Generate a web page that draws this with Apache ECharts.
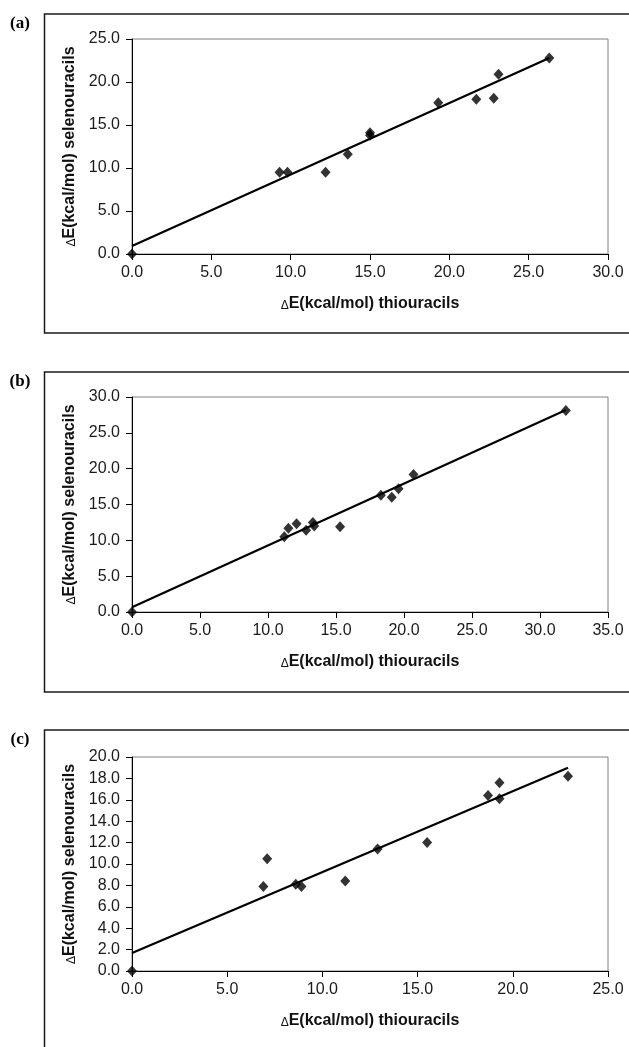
<!DOCTYPE html>
<html>
<head>
<meta charset="utf-8">
<script src="https://cdn.jsdelivr.net/npm/echarts/dist/echarts.min.js"></script>
<style>
html,body{margin:0;padding:0;background:#fff;}
#chart{width:629px;height:1047px;}
</style>
</head>
<body>
<div id="chart"></div>
<script>
// ---- Data ----
var panelLabels = ['(a)', '(b)', '(c)'];
var xTitle = 'E(kcal/mol) thiouracils';
var yTitle = 'E(kcal/mol) selenouracils';

// (a)
var aThio    = [0, 9.3, 9.8, 12.2, 13.6, 15.0, 15.0, 19.3, 21.7, 22.8, 23.1, 26.3];
var aSeleno  = [0, 9.5, 9.5, 9.5, 11.6, 14.1, 13.8, 17.6, 18.0, 18.1, 20.9, 22.8];
var aTrendX  = [0, 26.3];
var aTrendY  = [0.93, 22.8];
var aXTicks  = [0, 30, 5];
var aYTicks  = [0, 25, 5];

// (b)
var bThio    = [0, 11.2, 11.5, 12.1, 12.8, 13.3, 13.4, 15.3, 18.3, 19.1, 19.6, 20.7, 31.9];
var bSeleno  = [0, 10.5, 11.7, 12.3, 11.4, 12.5, 12.0, 11.9, 16.3, 16.0, 17.2, 19.2, 28.1];
var bTrendX  = [0, 31.9];
var bTrendY  = [0.65, 28.2];
var bXTicks  = [0, 35, 5];
var bYTicks  = [0, 30, 5];

// (c)
var cThio    = [0, 6.9, 7.1, 8.6, 8.9, 11.2, 12.9, 15.5, 18.7, 19.3, 19.3, 22.9];
var cSeleno  = [0, 7.9, 10.5, 8.1, 7.9, 8.4, 11.4, 12.0, 16.4, 17.6, 16.1, 18.2];
var cTrendX  = [0, 22.9];
var cTrendY  = [1.68, 19.0];
var cXTicks  = [0, 25, 5];
var cYTicks  = [0, 20, 2];

// ---- Layout ----
var panels = [
  {x: aThio, y: aSeleno, tx: aTrendX, ty: aTrendY, xt: aXTicks, yt: aYTicks, top: 39, h: 215, frameTop: 14, frameH: 319},
  {x: bThio, y: bSeleno, tx: bTrendX, ty: bTrendY, xt: bXTicks, yt: bYTicks, top: 397, h: 215, frameTop: 372, frameH: 320},
  {x: cThio, y: cSeleno, tx: cTrendX, ty: cTrendY, xt: cXTicks, yt: cYTicks, top: 757, h: 214, frameTop: 730, frameH: 340}
];

function zip(xs, ys) { return xs.map(function (v, i) { return [v, ys[i]]; }); }

var FONT = '"Liberation Sans", Arial, sans-serif';
var grids = [], xAxes = [], yAxes = [], series = [], graphics = [];

panels.forEach(function (p, i) {
  grids.push({left: 132, top: p.top, width: 476, height: p.h, show: true,
              borderColor: '#808080', borderWidth: 1, backgroundColor: 'transparent'});
  var tickFmt = function (v) { return v.toFixed(1); };
  xAxes.push({
    type: 'value', gridIndex: i, min: p.xt[0], max: p.xt[1], interval: p.xt[2],
    splitLine: {show: false},
    axisLine: {show: true, onZero: false, lineStyle: {color: '#000', width: 1}},
    axisTick: {show: true, inside: false, length: 6, lineStyle: {color: '#000'}},
    axisLabel: {show: true, margin: 11, color: '#1a1a1a', fontFamily: FONT, fontSize: 16, formatter: tickFmt},
    name: '{d|Δ}{b|' + xTitle + '}', nameLocation: 'middle', nameGap: 42,
    nameTextStyle: {rich: {
      d: {fontFamily: FONT, fontSize: 12, color: '#111', padding: [3, 0, 0, 0]},
      b: {fontFamily: FONT, fontSize: 16, fontWeight: 'bold', color: '#111'}
    }}
  });
  yAxes.push({
    type: 'value', gridIndex: i, min: p.yt[0], max: p.yt[1], interval: p.yt[2],
    splitLine: {show: false},
    axisLine: {show: true, onZero: false, lineStyle: {color: '#000', width: 1}},
    axisTick: {show: true, inside: false, length: 6, lineStyle: {color: '#000'}},
    axisLabel: {show: true, margin: 12, color: '#1a1a1a', fontFamily: FONT, fontSize: 16, formatter: tickFmt},
    name: '{d|Δ}{b|' + yTitle + '}', nameLocation: 'middle', nameGap: 50, nameRotate: 90,
    nameTextStyle: {rich: {
      d: {fontFamily: FONT, fontSize: 12, color: '#111', padding: [3, 0, 0, 0]},
      b: {fontFamily: FONT, fontSize: 16, fontWeight: 'bold', color: '#111'}
    }}
  });
  series.push({
    type: 'line', xAxisIndex: i, yAxisIndex: i, data: zip(p.tx, p.ty),
    showSymbol: false, symbol: 'none', lineStyle: {color: '#000', width: 2.2}, z: 2, silent: true
  });
  series.push({
    type: 'scatter', xAxisIndex: i, yAxisIndex: i, data: zip(p.x, p.y),
    symbol: 'diamond', symbolSize: [10, 11], itemStyle: {color: '#000'}, z: 3, silent: true
  });
  graphics.push({
    type: 'rect', shape: {x: 44.5, y: p.frameTop, width: 700, height: p.frameH},
    style: {fill: 'none', stroke: '#1a1a1a', lineWidth: 1.5}, z: -1, silent: true
  });
  graphics.push({
    type: 'text', x: 20, y: p.frameTop + 10,
    style: {text: panelLabels[i], font: 'bold 17px "Liberation Serif", "Times New Roman", serif',
            fill: '#000', textAlign: 'center', textVerticalAlign: 'middle'}, silent: true
  });
});

var chart = echarts.init(document.getElementById('chart'), null, {renderer: 'canvas'});
chart.setOption({
  animation: false,
  backgroundColor: '#fff',
  grid: grids, xAxis: xAxes, yAxis: yAxes, series: series,
  graphic: graphics
});
</script>
</body>
</html>
